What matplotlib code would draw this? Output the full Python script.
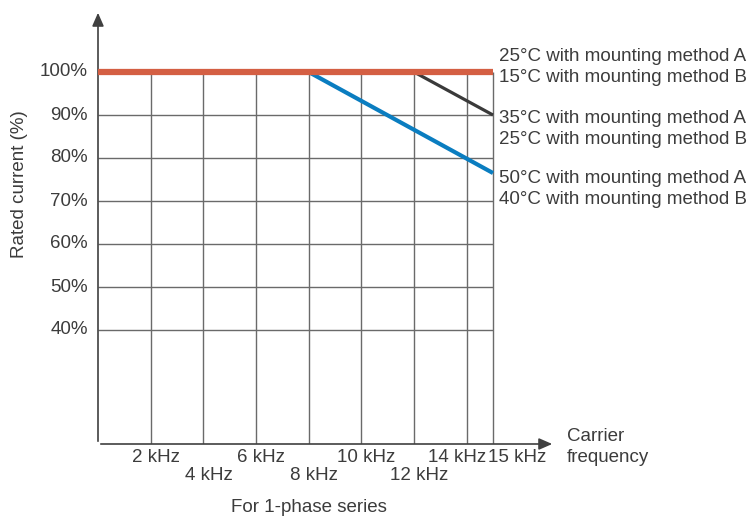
import numpy as np
import matplotlib.pyplot as plt

plt.rcParams['font.family'] = ['Liberation Sans', 'DejaVu Sans']

# data
freq_ticks = [2, 4, 6, 8, 10, 12, 14, 15]
freq_labels = ['2 kHz', '4 kHz', '6 kHz', '8 kHz', '10 kHz', '12 kHz', '14 kHz', '15 kHz']
pct_ticks = [40, 50, 60, 70, 80, 90, 100]

red_x = [0, 15]
red_y = [100, 100]
gray_x = [12, 15]
gray_y = [100, 90]
blue_x = [8, 15]
blue_y = [100, 76.5]

legend_text = [
    ('25°C with mounting method A', '15°C with mounting method B'),
    ('35°C with mounting method A', '25°C with mounting method B'),
    ('50°C with mounting method A', '40°C with mounting method B'),
]

W, H = 749, 518
fig = plt.figure(figsize=(W / 100, H / 100), dpi=100)
# axes box from x=98..555 px, y=10..444 px
ax = fig.add_axes([98 / W, (H - 444) / H, (555 - 98) / W, (444 - 10) / H])
px_per_khz = (493 - 98) / 15
px_per_pct = (330 - 72) / 60
ax.set_xlim(0, (555 - 98) / px_per_khz)
ax.set_ylim(100 - (444 - 72) / px_per_pct, 100 + (72 - 10) / px_per_pct)
ymin = ax.get_ylim()[0]
for s in ax.spines.values():
    s.set_visible(False)
ax.set_xticks([])
ax.set_yticks([])

axis_col = '#404040'
grid_col = '#6a6a6a'
txt_col = '#3c3c3c'

# grid
ax.hlines(pct_ticks[:-1], 0, 15, color=grid_col, lw=1)
ax.vlines(freq_ticks, ymin, 100, color=grid_col, lw=1)

# axes arrows
ax.annotate('', xy=(1, 0), xytext=(0, 0), xycoords='axes fraction',
            arrowprops=dict(arrowstyle='-|>,head_length=0.8,head_width=0.35', color=axis_col, lw=1.2))
ax.annotate('', xy=(0, 1), xytext=(0, 0), xycoords='axes fraction',
            arrowprops=dict(arrowstyle='-|>,head_length=0.8,head_width=0.35', color=axis_col, lw=1.2))

# curves
ax.plot(red_x, red_y, color='#D45F43', lw=4.5, solid_capstyle='butt', zorder=5)
ax.plot(gray_x, gray_y, color='#3a3a3a', lw=2.3, solid_capstyle='butt', zorder=4)
ax.plot(blue_x, blue_y, color='#0A7DC0', lw=3.0, solid_capstyle='butt', zorder=4)

fs = 13.5
# y tick labels
for p in pct_ticks:
    ax.text(-0.38, p, f'{p}%', ha='right', va='center', fontsize=fs, color=txt_col)

# x tick labels (staggered)
offsets = {14: -0.35, 15: 0.9}
for f, lab in zip(freq_ticks, freq_labels):
    row = 1 if f in (4, 8, 12) else 0
    y = ymin - (14 + 18 * row) / px_per_pct
    ax.text(f + offsets.get(f, 0.2), y, lab, ha='center', va='center', fontsize=fs, color=txt_col)

fig.text(567 / W, 1 - 447 / H, 'Carrier\nfrequency', ha='left', va='center',
         fontsize=fs, color=txt_col, linespacing=1.3)

fig.text(20 / W, 1 - 184 / H, 'Rated current (%)', rotation=90, ha='center', va='center',
         fontsize=fs, color=txt_col)
fig.text(309 / W, 1 - 507 / H, 'For 1-phase series', ha='center', va='center',
         fontsize=fs, color=txt_col)

# right-side labels
for (a, b), yc in zip(legend_text, [67, 129, 189]):
    fig.text(499 / W, 1 - yc / H, a + '\n' + b, ha='left', va='center', fontsize=fs,
             color=txt_col, linespacing=1.3)

fig.savefig('out.png', dpi=100)
